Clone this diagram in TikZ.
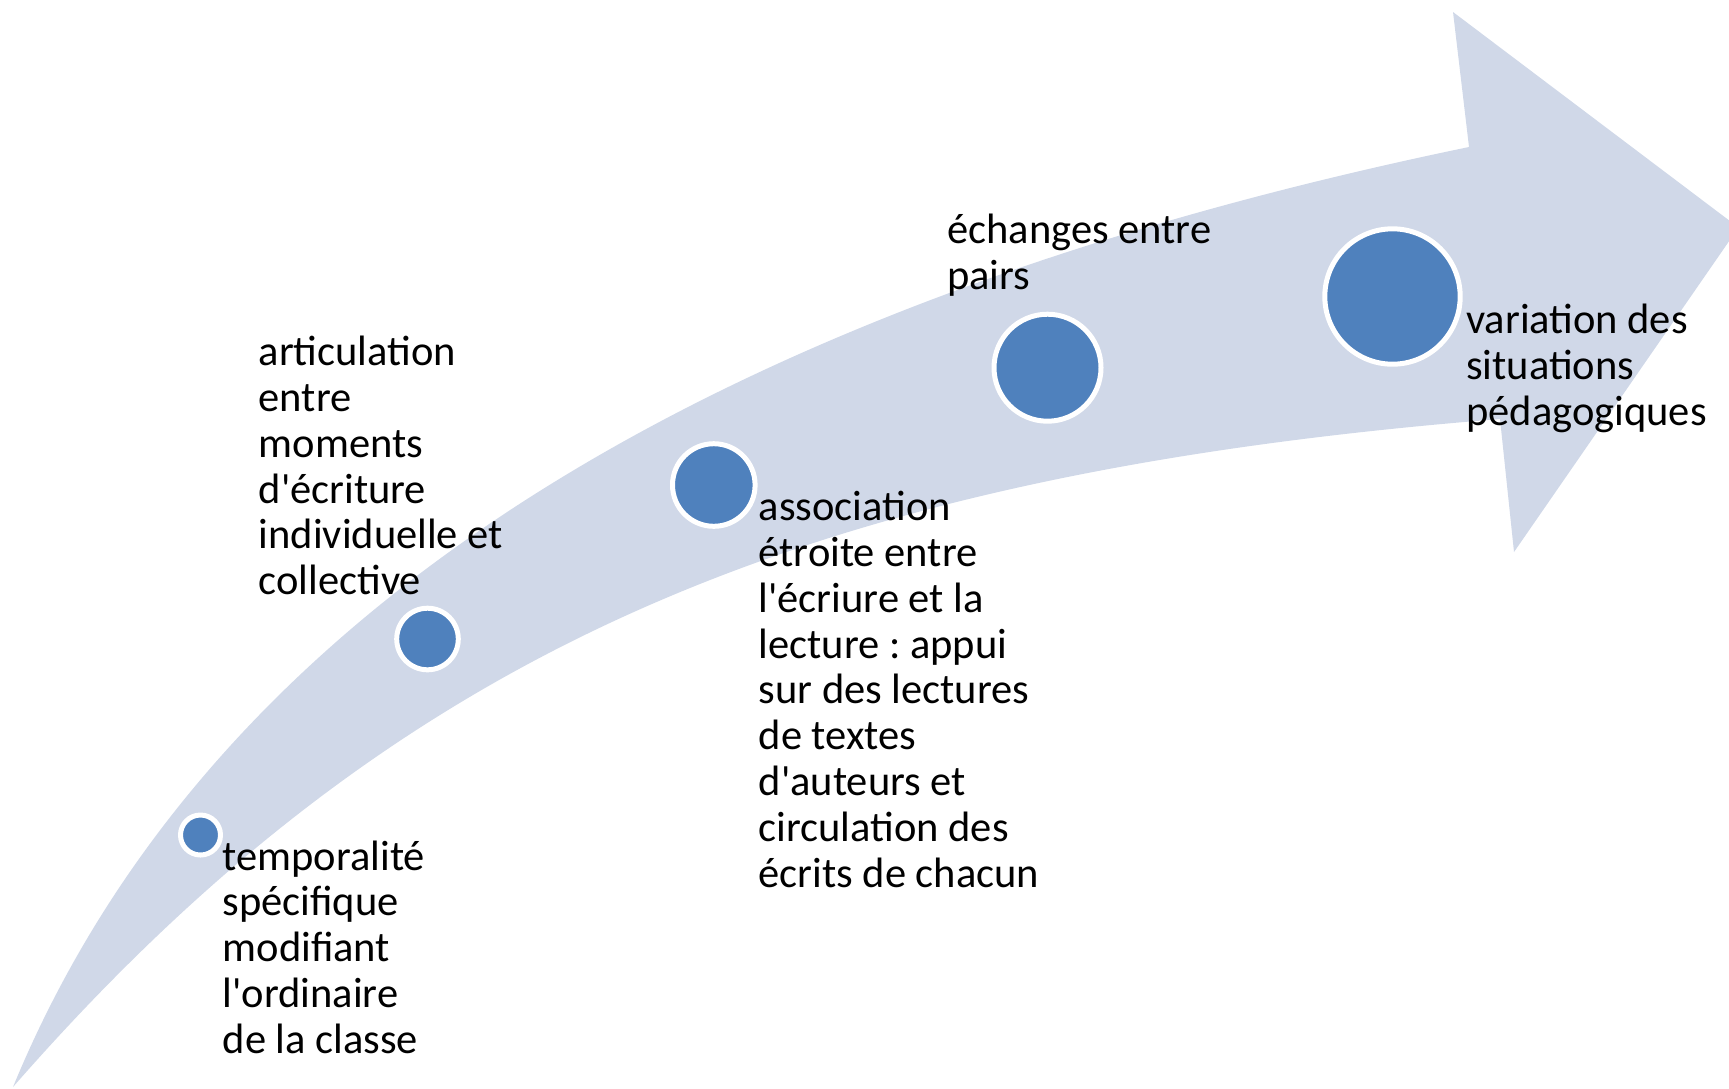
\documentclass[tikz,border=0pt]{standalone}
\usepackage{fontspec}
\setmainfont{Carlito}[Ligatures=TeXOff]
\frenchspacing
\definecolor{band}{HTML}{D0D8E8}
\definecolor{dot}{HTML}{4F81BD}
\begin{document}
\begin{tikzpicture}[x=1pt,y=-1pt,
  lbl/.style={anchor=base west, align=left, inner sep=0pt, font=\fontsize{42.5}{45.8}\selectfont},
  dotnode/.style={circle, fill=dot, draw=white, line width=5pt, inner sep=0pt}]
\useasboundingbox (0,0) rectangle (1729,1088);
\begin{scope}
\clip (0,0) rectangle (1729,1088);
\fill[band] (13,1087) .. controls (203,625) and (686,309) .. (1469,147)
  -- (1453,12) -- (1738.5,227.5) -- (1514,552) -- (1500,419)
  .. controls (802,475) and (395,650) .. (13,1087) -- cycle;
\end{scope}
\node[dotnode, minimum size=40pt] (c1) at (200.5,835) {};
\node[dotnode, minimum size=61.6pt] (c2) at (427.5,639) {};
\node[dotnode, minimum size=82.6pt] (c3) at (713.8,485) {};
\node[dotnode, minimum size=107pt] (c4) at (1047.5,367.7) {};
\node[dotnode, minimum size=135.4pt] (c5) at (1392.5,296.5) {};
% base anchor = baseline of the last line
\node[lbl] (t1) at (222.5,1053.2) {temporalité\\spécifique\\modifiant\\l'ordinaire\\de la classe};
\node[lbl] (t2) at (258.5,594.7) {articulation\\entre\\moments\\d'écriture\\individuelle et\\collective};
\node[lbl] (t3) at (758.5,887.1) {association\\étroite entre\\l'écriure et la\\lecture : appui\\sur des lectures\\de textes\\d'auteurs et\\circulation des\\écrits de chacun};
\node[lbl] (t4) at (947,289.1) {échanges entre\\pairs};
\node[lbl] (t5) at (1466,425) {variation des\\situations\\pédagogiques};
\end{tikzpicture}
\end{document}
